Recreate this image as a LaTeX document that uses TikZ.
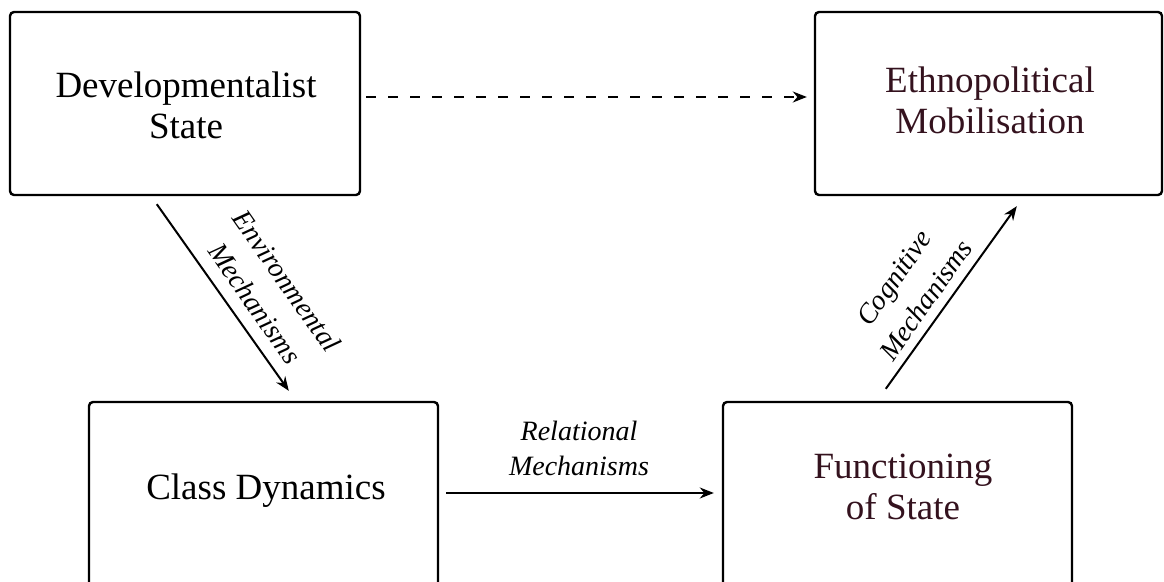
\documentclass[tikz,border=0pt]{standalone}
\usepackage{fontspec}
\setmainfont{Liberation Serif}
\usetikzlibrary{arrows.meta,calc}
\definecolor{darkmaroon}{RGB}{52,18,30}
\begin{document}
\begin{tikzpicture}[x=0.5pt,y=-0.5pt,
  box/.style={draw, line width=1.2pt, rounded corners=2pt, inner sep=0pt},
  boxtext/.style={font=\fontsize{18.5}{20.5}\selectfont, align=center, inner sep=0pt},
  lbl/.style={font=\fontsize{14}{17.5}\selectfont\itshape, align=center, inner sep=0pt},
  dlbl/.style={font=\fontsize{14}{19.5}\selectfont\itshape, align=center, inner sep=0pt},
  arr/.style={line width=1pt, -{Stealth[length=7pt,width=5.5pt]}}]
\useasboundingbox (0,0) rectangle (1164,582);
\clip (0,0) rectangle (1164,582);
% boxes
\node[box, minimum width=175pt, minimum height=91.5pt] (b1) at (185,103.5) {};
\node[box, minimum width=173.5pt, minimum height=91.5pt] (b2) at (988.5,103.5) {};
\node[box, minimum width=174.5pt, minimum height=109pt] (b3) at (263.5,511) {};
\node[box, minimum width=174.5pt, minimum height=109pt] (b4) at (897.5,511) {};
% texts
\node[boxtext] (t1) at (186,105) {Developmentalist\\State};
\node[boxtext, text=darkmaroon] (t2) at (990,100) {Ethnopolitical\\Mobilisation};
\node[boxtext, anchor=base] (t3) at (266,500) {Class Dynamics};
\node[boxtext, text=darkmaroon] (t4) at (903,487) {Functioning\\of State};
% connectors
\draw[arr, dash pattern=on 5pt off 6pt] ($(b1.east)+(5,-6.5)$) -- ($(b2.west)+(-7,-6.5)$);
\draw[arr] ($(b1.south west)+(148,8)$) -- ($(b3.north west)+(201,-10)$);
\draw[arr] ($(b4.north west)+(164,-12)$) -- ($(b2.south west)+(203,10)$);
\draw[arr] ($(b3.east)+(7,-18)$) -- ($(b4.west)+(-8,-18)$);
% labels
\node[dlbl, rotate=-55] (l1) at (271,292) {Environmental\\Mechanisms};
\node[dlbl, rotate=55] (l2) at (910,289) {Cognitive\\Mechanisms};
\node[lbl] (l3) at (579,448.5) {Relational\\Mechanisms};
\end{tikzpicture}
\end{document}
